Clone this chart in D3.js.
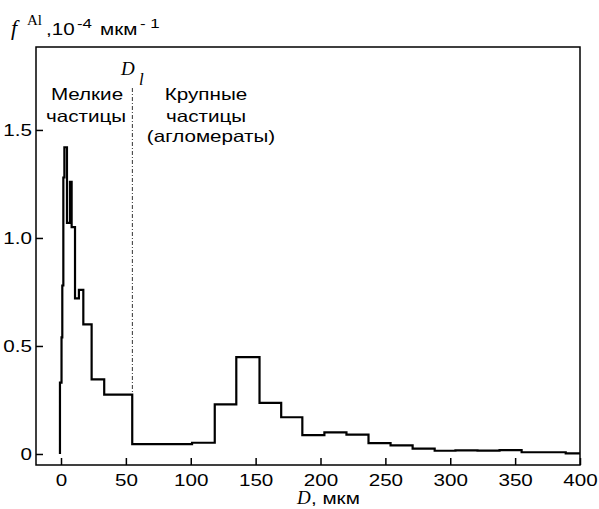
<!DOCTYPE html>
<html>
<head>
<meta charset="utf-8">
<script src="https://cdn.jsdelivr.net/npm/d3@7"></script>
<style>
  body { margin: 0; background: #fff; }
  svg { display: block; }
</style>
</head>
<body>
<svg id="chart" width="599" height="509"></svg>
<script>
// bin edges (D, мкм) and the value of each bin (10^-4 мкм^-1)
var binEdges = [-0.8, 0.4, 1.0, 1.8, 2.6, 4.6, 6.9, 8.2, 10.8, 13.8, 17.2, 23.6, 33.3, 54.9,
    101, 118.5, 135.1, 153, 169.7, 186, 203, 220, 237, 254, 271, 288, 304, 321, 338, 355, 372, 389, 400];
var binValues = [0.33, 0.54, 0.78, 1.28, 1.42, 1.07, 1.26, 1.05, 0.72, 0.76, 0.60, 0.345, 0.275,
    0.046, 0.052, 0.23, 0.448, 0.237, 0.17, 0.087, 0.10, 0.09, 0.05, 0.04, 0.025, 0.015, 0.017,
    0.016, 0.018, 0.008, 0.008, 0.003];
var xTicks = [0, 50, 100, 150, 200, 250, 300, 350, 400];
var yTicks = [0, 0.5, 1.0, 1.5];
var boundaryD = 55;

var svg = d3.select('#chart');
var sans = "'Liberation Sans', Arial, sans-serif";
var serif = "'Liberation Serif', 'Times New Roman', serif";
var stretch = 1.25;   // the sans text in the picture is wide

var plot = {left: 36, right: 580, top: 47, bottom: 465};

var x = d3.scaleLinear()
    .domain([-19.27, 400])
    .range([plot.left, plot.right]);

var y = d3.scaleLinear()
    .domain([-0.051, 1.884])
    .range([plot.bottom, plot.top]);

// sans text, stretched sideways
function label(px, py, str, size, anchor) {
    svg.append('g')
        .attr('transform', 'translate(' + px + ',' + py + ') scale(' + stretch + ',1)')
        .append('text')
        .attr('text-anchor', anchor || 'start')
        .style('font-family', sans)
        .style('font-size', size + 'px')
        .attr('fill', '#000')
        .text(str);
}

function serifLabel(px, py, str, size) {
    svg.append('text')
        .attr('x', px)
        .attr('y', py)
        .style('font-family', serif)
        .style('font-style', 'italic')
        .style('font-size', size + 'px')
        .attr('fill', '#000')
        .text(str);
}

// axes
var xAxis = d3.axisBottom(x).tickValues(xTicks).tickSize(-7).tickFormat(d3.format('d'));
var yAxis = d3.axisLeft(y).tickValues(yTicks).tickSize(-7)
    .tickFormat(function (d) { return d === 0 ? '0' : d3.format('.1f')(d); });

var gx = svg.append('g')
    .attr('transform', 'translate(0,' + plot.bottom + ')')
    .call(xAxis);
gx.select('.domain').remove();
gx.selectAll('line').attr('stroke', '#000').attr('stroke-width', 1.5);
gx.selectAll('text')
    .attr('y', 9)
    .attr('transform', 'scale(' + stretch + ',1)')
    .style('font-family', sans)
    .style('font-size', '16.5px')
    .attr('fill', '#000');

var gy = svg.append('g')
    .attr('transform', 'translate(' + plot.left + ',0)')
    .call(yAxis);
gy.select('.domain').remove();
gy.selectAll('line').attr('stroke', '#000').attr('stroke-width', 1.5);
gy.selectAll('text')
    .attr('x', -4 / stretch)
    .attr('transform', 'scale(' + stretch + ',1)')
    .style('font-family', sans)
    .style('font-size', '16.5px')
    .attr('fill', '#000');

// frame
svg.append('rect')
    .attr('x', plot.left)
    .attr('y', plot.top)
    .attr('width', plot.right - plot.left)
    .attr('height', plot.bottom - plot.top)
    .attr('fill', 'none')
    .attr('stroke', '#000')
    .attr('stroke-width', 1.5);

// boundary D_l
svg.append('line')
    .attr('x1', x(boundaryD))
    .attr('x2', x(boundaryD))
    .attr('y1', 88)
    .attr('y2', y(binValues[12]))
    .attr('stroke', '#333')
    .attr('stroke-width', 1)
    .attr('stroke-dasharray', '4,2,1,2');

// histogram outline
var pts = [[binEdges[0], 0]];
binValues.forEach(function (v, i) {
    pts.push([binEdges[i], v]);
    pts.push([binEdges[i + 1], v]);
});

var line = d3.line()
    .x(function (d) { return x(d[0]); })
    .y(function (d) { return y(d[1]); });

svg.append('path')
    .datum(pts)
    .attr('d', line)
    .attr('fill', 'none')
    .attr('stroke', '#000')
    .attr('stroke-width', 2.2)
    .attr('stroke-linejoin', 'miter');

// y axis title: f^Al, 10^-4 мкм^-1
serifLabel(11, 35, 'f', 22);
svg.append('text')
    .attr('x', 27).attr('y', 25)
    .style('font-family', serif).style('font-size', '15px')
    .text('Al');
label(46, 35, ',10', 16.5);
label(77, 28, '-4', 13.5);
label(100, 35, 'мкм', 16.5);
label(140, 28, '- 1', 13.5);

// x axis title
serifLabel(297, 504, 'D', 19);
label(311, 504, ',  мкм', 16.5);

// D_l
serifLabel(121, 75, 'D', 19);
serifLabel(139, 85, 'l', 17);

// region notes
label(87, 100, 'Мелкие', 16.5, 'middle');
label(86, 122, 'частицы', 16.5, 'middle');
label(206, 100, 'Крупные', 16.5, 'middle');
label(206, 122, 'частицы', 16.5, 'middle');
label(211, 142, '(агломераты)', 16.5, 'middle');
</script>
</body>
</html>
